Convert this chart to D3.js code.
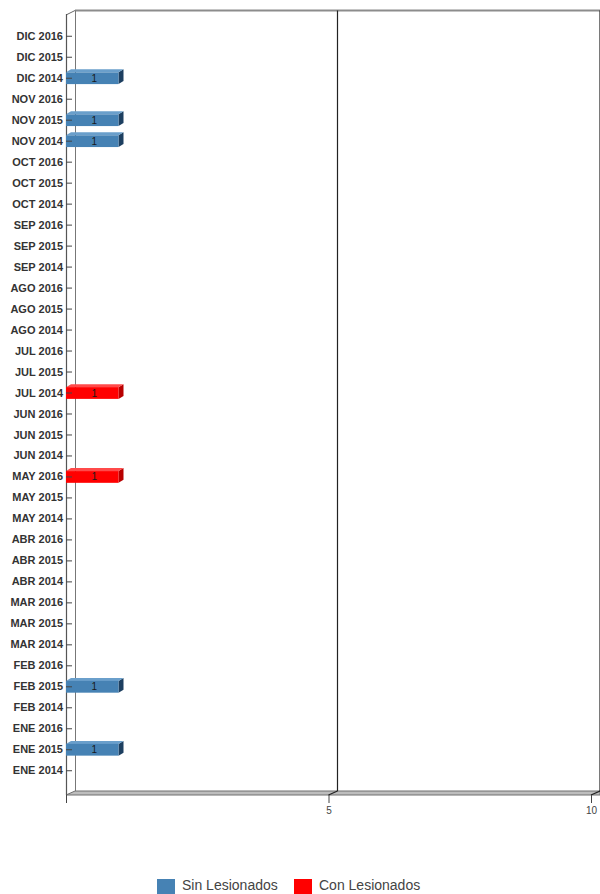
<!DOCTYPE html>
<html>
<head>
<meta charset="utf-8">
<script src="https://cdn.jsdelivr.net/npm/d3@7"></script>
<style>
  body { margin: 0; background: #fff; }
  svg { display: block; font-family: Arial, 'Liberation Sans', sans-serif; }
</style>
</head>
<body>
<div id="chart"></div>
<script>
// Categories, top to bottom
const categories = [
  'DIC 2016', 'DIC 2015', 'DIC 2014',
  'NOV 2016', 'NOV 2015', 'NOV 2014',
  'OCT 2016', 'OCT 2015', 'OCT 2014',
  'SEP 2016', 'SEP 2015', 'SEP 2014',
  'AGO 2016', 'AGO 2015', 'AGO 2014',
  'JUL 2016', 'JUL 2015', 'JUL 2014',
  'JUN 2016', 'JUN 2015', 'JUN 2014',
  'MAY 2016', 'MAY 2015', 'MAY 2014',
  'ABR 2016', 'ABR 2015', 'ABR 2014',
  'MAR 2016', 'MAR 2015', 'MAR 2014',
  'FEB 2016', 'FEB 2015', 'FEB 2014',
  'ENE 2016', 'ENE 2015', 'ENE 2014'
];

// Series values, same order as categories
const sinLesionados = [
  0, 0, 1,
  0, 1, 1,
  0, 0, 0,
  0, 0, 0,
  0, 0, 0,
  0, 0, 0,
  0, 0, 0,
  0, 0, 0,
  0, 0, 0,
  0, 0, 0,
  0, 1, 0,
  0, 1, 0
];
const conLesionados = [
  0, 0, 0,
  0, 0, 0,
  0, 0, 0,
  0, 0, 0,
  0, 0, 0,
  0, 0, 1,
  0, 0, 0,
  1, 0, 0,
  0, 0, 0,
  0, 0, 0,
  0, 0, 0,
  0, 0, 0
];

const xTicks = [0, 5, 10];
const seriesNames = ['Sin Lesionados', 'Con Lesionados'];

// Dimensions
const WIDTH = 600;
const HEIGHT = 894;
const PLOT = { left: 66, right: 591, top: 14, bottom: 795 };
const WALL = { dx: 9, dy: -3 };   // depth of the back wall
const BAR = { dx: 5, dy: -3 };    // depth of each bar

const COLORS = [
  { front: '#4682b4', top: '#6a9fcb', side: '#1d3f60' },
  { front: '#ff0000', top: '#ff4a4a', side: '#b80000' }
];

const svg = d3.select('#chart')
  .append('svg')
  .attr('width', WIDTH)
  .attr('height', HEIGHT);

const x = d3.scaleLinear()
  .domain([0, 10])
  .range([PLOT.left, PLOT.right]);

const y = d3.scaleBand()
  .domain(categories)
  .range([24.5, 782.5])
  .paddingInner(0.44)
  .paddingOuter(0.28);

// Back wall top edge and left wall
const backTop = PLOT.top + WALL.dy - 0.5;
const backBottom = PLOT.bottom + WALL.dy - 1;

svg.append('line')
  .attr('x1', PLOT.left + WALL.dx).attr('x2', WIDTH)
  .attr('y1', backTop).attr('y2', backTop)
  .attr('stroke', '#8c8c8c').attr('stroke-width', 2);

svg.append('path')
  .attr('d', `M${PLOT.left},${PLOT.top + 1}L${PLOT.left + WALL.dx},${backTop}`)
  .attr('stroke', '#666').attr('fill', 'none');

svg.append('line')
  .attr('x1', PLOT.left + WALL.dx + 0.5).attr('x2', PLOT.left + WALL.dx + 0.5)
  .attr('y1', backTop).attr('y2', backBottom)
  .attr('stroke', '#777').attr('stroke-width', 1);

// Floor
svg.append('path')
  .attr('d', `M${PLOT.left},${PLOT.bottom}L${WIDTH},${PLOT.bottom}L${WIDTH},${backBottom}L${PLOT.left + WALL.dx},${backBottom}Z`)
  .attr('fill', '#bdbdbd')
  .attr('stroke', '#6e6e6e')
  .attr('stroke-width', 1);

// Grid lines on back wall and floor
const grid = svg.append('g');
xTicks.filter(t => t > 0).forEach(t => {
  grid.append('line')
    .attr('x1', x(t) + WALL.dx).attr('x2', x(t) + WALL.dx)
    .attr('y1', backTop).attr('y2', backBottom)
    .attr('stroke', '#222').attr('stroke-width', 1.2);
  grid.append('line')
    .attr('x1', x(t)).attr('x2', x(t) + WALL.dx)
    .attr('y1', PLOT.bottom).attr('y2', backBottom)
    .attr('stroke', '#222').attr('stroke-width', 1.2);
});

// Front left axis line
svg.append('line')
  .attr('x1', PLOT.left + 0.5).attr('x2', PLOT.left + 0.5)
  .attr('y1', PLOT.top).attr('y2', PLOT.bottom)
  .attr('stroke', '#555').attr('stroke-width', 1.2);

// Stacked 3D bars
const stacks = categories.map((c, i) => {
  const vals = [sinLesionados[i], conLesionados[i]];
  let acc = 0;
  return vals.map((v, s) => {
    const seg = { cat: c, series: s, x0: acc, x1: acc + v, value: v };
    acc += v;
    return seg;
  }).filter(d => d.value > 0);
}).flat();

const bars = svg.append('g')
  .selectAll('g')
  .data(stacks)
  .enter()
  .append('g');

bars.append('path')
  .attr('d', d => {
    const x1 = x(d.x1), y0 = y(d.cat), h = y.bandwidth();
    return `M${x1},${y0}L${x1 + BAR.dx},${y0 + BAR.dy}L${x1 + BAR.dx},${y0 + h + BAR.dy}L${x1},${y0 + h}Z`;
  })
  .attr('fill', d => COLORS[d.series].side);

bars.append('path')
  .attr('d', d => {
    const x0 = x(d.x0), x1 = x(d.x1), y0 = y(d.cat);
    return `M${x0},${y0}L${x0 + BAR.dx},${y0 + BAR.dy}L${x1 + BAR.dx},${y0 + BAR.dy}L${x1},${y0}Z`;
  })
  .attr('fill', d => COLORS[d.series].top);

bars.append('rect')
  .attr('x', d => x(d.x0))
  .attr('y', d => y(d.cat))
  .attr('width', d => x(d.x1) - x(d.x0))
  .attr('height', y.bandwidth())
  .attr('fill', d => COLORS[d.series].front);

bars.append('text')
  .attr('x', d => (x(d.x0) + x(d.x1)) / 2 + 2)
  .attr('y', d => y(d.cat) + y.bandwidth() / 2 + 3.5)
  .attr('text-anchor', 'middle')
  .attr('font-size', 10)
  .attr('fill', '#1a1a1a')
  .text(d => d.value);

// Y axis (ticks point into the depth)
const yAxis = svg.append('g')
  .attr('transform', `translate(${PLOT.left},0)`)
  .call(d3.axisLeft(y).tickSizeInner(-6).tickSizeOuter(0).tickPadding(3));

yAxis.select('.domain').remove();
yAxis.selectAll('.tick line').attr('stroke', '#444');
yAxis.selectAll('.tick text')
  .attr('font-family', "Arial, 'Liberation Sans', sans-serif")
  .attr('font-size', 11)
  .attr('font-weight', 'bold')
  .attr('fill', '#333');

// X axis
const xAxis = svg.append('g')
  .attr('transform', `translate(0,${PLOT.bottom})`)
  .call(d3.axisBottom(x).tickValues(xTicks).tickSize(8).tickPadding(4)
    .tickFormat(d => d === 0 ? '' : d));

xAxis.select('.domain').remove();
xAxis.selectAll('.tick line').attr('stroke', '#444');
xAxis.selectAll('.tick text')
  .attr('font-family', "Arial, 'Liberation Sans', sans-serif")
  .attr('font-size', 10)
  .attr('fill', '#444');

// Legend
const legendItems = [
  { name: seriesNames[0], color: COLORS[0].front, x: 157 },
  { name: seriesNames[1], color: COLORS[1].front, x: 294 }
];

const legend = svg.append('g').attr('class', 'legend');

legend.selectAll('rect')
  .data(legendItems)
  .enter()
  .append('rect')
  .attr('x', d => d.x)
  .attr('y', 879)
  .attr('width', 18)
  .attr('height', 18)
  .attr('fill', d => d.color);

legend.selectAll('text')
  .data(legendItems)
  .enter()
  .append('text')
  .attr('x', d => d.x + 25)
  .attr('y', 890)
  .attr('font-size', 14)
  .attr('fill', '#444')
  .text(d => d.name);
</script>
</body>
</html>
